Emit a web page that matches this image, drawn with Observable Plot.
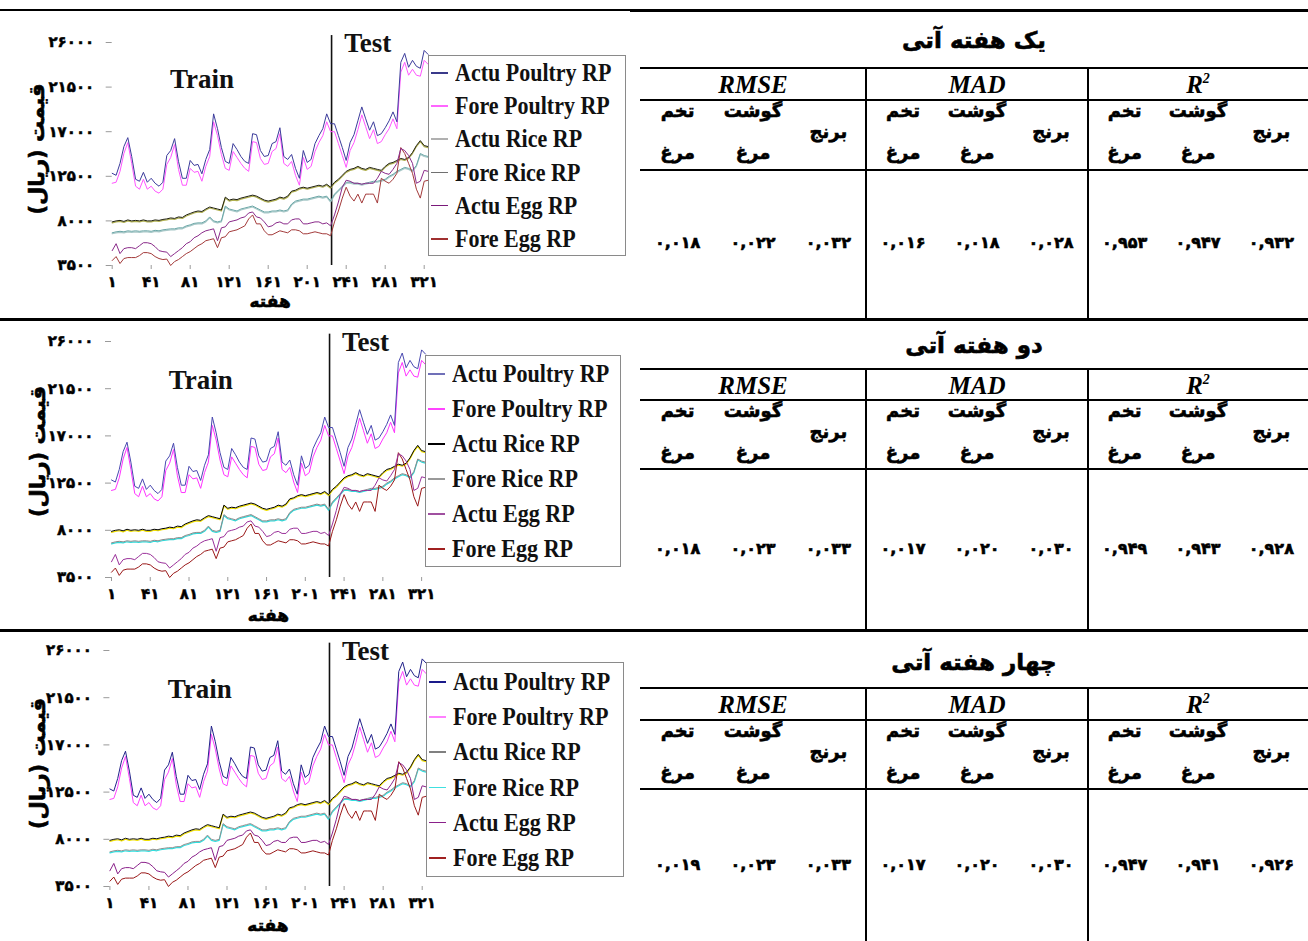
<!DOCTYPE html>
<html>
<head>
<meta charset="utf-8">
<script src="https://cdn.jsdelivr.net/npm/d3@7"></script>
<script src="https://cdn.jsdelivr.net/npm/@observablehq/plot@0.6"></script>
<style>
  html, body { margin: 0; padding: 0; background: #fff; }
  #root { position: relative; width: 1308px; height: 941px; overflow: hidden; background: #fff; font-family: "DejaVu Sans", sans-serif; }
  .abs { position: absolute; white-space: nowrap; }
  .fa { -webkit-text-stroke: 0.6px #000; color: #000; }
  #root svg g[aria-label$="tick label"] text { stroke: #000; stroke-width: 0.5px; }
</style>
</head>
<body>
<div id="root"></div>
<script>
// ---------------- DATA ----------------
const weeks = [1,5,9,13,17,21,25,29,33,37, 41,45,49,53,57,61,65,69,73,77, 81,85,89,93,97,101,105,109,113,117,
  121,125,129,133,137,141,145,149,153,157, 161,165,169,173,177,181,185,189,193,197, 201,205,209,213,217,221,225,229,233,237,
  241,245,249,253,257,261,265,269,273,277, 281,285,289,293,297,301,305,309,313,317, 321,325];

const poultryActual = [12800,12600,13800,15500,16400,14500,12200,12000,12900,11900,
  12300,11800,11500,11900,14600,15100,16300,14000,12300,12300,
  14100,13600,13700,12750,14200,15200,18800,17300,15400,14000,
  13800,15800,15200,14500,14000,13800,16800,16700,15100,14500,
  14600,15800,16000,17400,14500,14200,14700,13300,12300,15100,
  13900,14200,15800,16600,17300,18800,17800,17800,16600,15400,
  14100,15900,16700,18100,19500,18300,17150,18000,16600,16800,
  17400,18100,19000,18000,24000,24900,23500,24200,23600,23400,
  25200,24800];
const poultryFore = [11800,11900,13000,14800,15900,13800,11500,11200,12200,11200,
  11500,11000,10800,11200,13700,14400,15700,13200,11600,11600,
  13300,12900,13000,12000,13500,14500,18000,16600,14700,13300,
  13100,15000,14400,13800,13300,13000,16000,15900,14300,13700,
  13800,15000,15300,16800,13800,13500,14000,12600,11600,14400,
  13200,13500,15000,15900,16600,18000,17000,17000,15800,14600,
  13400,15100,15900,17200,18700,17500,16300,17200,15800,16000,
  16700,17300,18300,17300,23000,24000,22700,23300,22700,22600,
  24200,23800];
const riceActual = [7900,8000,8050,7950,8100,8000,8050,8000,8100,8000,
  8000,8100,8050,8150,8200,8300,8250,8400,8350,8600,
  8750,8900,9000,8950,9200,9400,9300,9200,9100,10400,
  10100,10200,10150,10300,10400,10500,10600,10500,10300,10100,
  10000,10100,10200,10400,10300,10500,11000,11100,11300,11400,
  11300,11400,11500,11600,11500,11700,11400,11900,12200,12600,
  13000,13200,13300,13500,13300,13200,13400,13300,13200,13100,
  13500,13800,13900,14100,14300,14200,14400,14900,15600,16100,
  15600,15500];
const riceFore = [6800,6900,6950,6900,7000,6950,7000,6950,7000,7000,
  6950,7050,7000,7100,7150,7200,7200,7300,7300,7500,
  7600,7750,7800,7800,8000,8400,8000,7900,8000,9500,
  9200,9100,9000,9200,9300,9400,9500,9300,9100,8900,
  8900,9000,9000,9100,9000,9100,9700,10000,10100,10200,
  10200,10300,10400,10500,10400,10500,10000,10700,11100,11500,
  11900,11900,11800,11800,11700,11800,11900,12000,12000,12100,
  12200,12500,12700,13000,13200,13400,13300,13100,13600,14800,
  14600,14500];
const eggActual = [5000,5700,4700,5200,5300,5300,5200,5500,5800,5800,
  5700,5400,5000,4900,4850,4400,4700,5000,5300,5700,
  5900,6300,6500,6800,7000,7100,7200,6000,7300,7400,
  7900,8000,8100,8300,8400,8800,8900,8400,8300,7900,
  7400,7500,7800,7900,7700,7700,8100,8200,8200,7700,
  7700,7800,7900,7900,7700,7800,7500,8600,9900,11400,
  12100,12000,11800,11800,11700,11800,11800,11800,12300,13000,
  12800,12700,13200,13800,15300,15100,14600,13800,11800,12000,
  13100,13000];
const eggFore = [4000,4400,3700,4200,4300,4300,4300,4500,4800,4800,
  4700,4400,4200,4100,4150,3500,3900,4100,4400,4700,
  4900,5200,5500,5700,6000,6100,6200,5300,6300,6400,
  6900,7000,7100,7300,7500,8200,8600,7700,7700,7000,
  6600,6600,6800,7000,6900,6800,7100,7100,7000,6700,
  6700,6800,6900,6800,6700,6700,6500,7900,9000,10300,
  11400,10500,10000,10700,9800,10700,10700,10700,9800,12300,
  12000,11800,12200,12800,15400,14800,13800,12800,11200,10300,
  12000,12100];

const splitWeek = 226;
const yTicks = [3500, 8000, 12500, 17000, 21500, 26000];
const xTicks = [1, 41, 81, 121, 161, 201, 241, 281, 321];
const phaseNotes = [{label: "Train", week: 93, value: 22300}, {label: "Test", week: 263, value: 25900}];
const yTitle = "قیمت (ریال)\u200F";
const xTitle = "هفته";
const legendLabels = ["Actu Poultry RP", "Fore Poultry RP", "Actu Rice RP", "Fore Rice RP", "Actu Egg RP", "Fore Egg RP"];

const horizons = ["یک هفته آتی", "دو هفته آتی", "چهار هفته آتی"];
const metricNames = ["RMSE", "MAD", "R"];
const productLabels = [["تخم", "مرغ"], ["گوشت", "مرغ"], ["برنج"]];
const rmse = [[0.018, 0.022, 0.032], [0.018, 0.023, 0.033], [0.019, 0.023, 0.033]];
const mad  = [[0.016, 0.018, 0.028], [0.017, 0.020, 0.030], [0.017, 0.020, 0.030]];
const r2   = [[0.953, 0.947, 0.932], [0.949, 0.943, 0.928], [0.947, 0.941, 0.926]];

// ---------------- LAYOUT / STYLE ----------------
const panels = [
  { top: 20, h: 295, mt: 22, mb: 50, ml: 111.7, mr: 12.4, xlabDy: 36, ylabDx: -75, ylabDy: -5,
    lineColors: {PA: "#3b3b9b", PF: "#ff55ff", RA: "#202010", RAu: "#b0b050", RF: "#6aa6a6", RFu: "#a8c8c8", EA: "#8a2a8a", EF: "#a33a3a"},
    legend: {left: 428, top: 55, w: 198, h: 201, first: 17, gap: 33.2, font: 25, sx: 0.88, tx: 26},
    swatch: ["#3a3a8a", "#ff66ff", "#b0b0b0", "#707070", "#7a1a7a", "#a03030"],
    table: {titleY: 40, top: 68, head: 100, sub: 170, bottom: 318, valueY: 243} },
  { top: 325, h: 300, mt: 16, mb: 48, ml: 111, mr: 15, xlabDy: 38, ylabDx: -73, ylabDy: -8,
    lineColors: {PA: "#4848b0", PF: "#ff33ff", RA: "#000000", RAu: "#f0e000", RF: "#8a8a8a", RFu: "#30d8d8", EA: "#9a309a", EF: "#9a1818"},
    legend: {left: 425, top: 355, w: 196, h: 212, first: 18, gap: 35, font: 26, sx: 0.85, tx: 26},
    swatch: ["#7070b8", "#ff44ff", "#000000", "#999999", "#a050a0", "#a02020"],
    table: {titleY: 345, top: 369, head: 400, sub: 469, bottom: 629, valueY: 549} },
  { top: 634, h: 304, mt: 16, mb: 52, ml: 109.4, mr: 14.4, xlabDy: 39, ylabDx: -72, ylabDy: -5,
    lineColors: {PA: "#22228a", PF: "#ff44ff", RA: "#101010", RAu: "#f0e000", RF: "#909090", RFu: "#30e0e0", EA: "#8a208a", EF: "#9a1818"},
    legend: {left: 426, top: 662, w: 198, h: 215, first: 19, gap: 35.2, font: 26, sx: 0.85, tx: 26},
    swatch: ["#1a1a8a", "#ff80ff", "#808080", "#40e0e0", "#8a208a", "#a02020"],
    table: {titleY: 662, top: 688, head: 720, sub: 789, bottom: 941, valueY: 865} }
];

const faDigits = "۰۱۲۳۴۵۶۷۸۹";
const fa = v => String(v).replace(/[0-9]/g, d => faDigits[+d]).replace(".", ",");
const fa3 = v => fa(v.toFixed(3));

const root = document.getElementById("root");
function el(style, text, parent, cls) {
  const e = document.createElement("div");
  e.className = "abs" + (cls ? " " + cls : "");
  Object.assign(e.style, style);
  if (text != null) e.textContent = text;
  (parent || root).appendChild(e);
  return e;
}
function hline(x, y, w, t) { el({left: x + "px", top: (y - t / 2) + "px", width: w + "px", height: t + "px", background: "#000"}); }
function vline(x, y1, y2, t) { el({left: (x - t / 2) + "px", top: y1 + "px", width: t + "px", height: (y2 - y1) + "px", background: "#000"}); }

// ---------------- CHARTS ----------------
function series(vals) { return weeks.map((w, i) => ({w, v: vals[i]})); }

panels.forEach((p, k) => {
  const c = p.lineColors;
  const svg = Plot.plot({
    width: 440, height: p.h,
    marginLeft: p.ml, marginRight: p.mr, marginTop: p.mt, marginBottom: p.mb,
    x: {domain: [1, 325]},
    y: {domain: [3500, 26000]},
    style: {fontFamily: "DejaVu Sans", fontWeight: "bold", fontSize: "15px", background: "transparent", overflow: "visible", color: "black"},
    marks: [
      Plot.axisY({ticks: yTicks, tickSize: 6, tickPadding: 12, tickFormat: fa, stroke: "#9a9a9a", fill: "black", line: true, label: null, fontSize: 15}),
      Plot.axisX({ticks: xTicks, tickSize: 4, tickPadding: 7, tickFormat: fa, stroke: "#9a9a9a", fill: "black", line: true, label: null, fontSize: 15}),
      Plot.ruleX([splitWeek], {y1: 3500, y2: 26700, stroke: "#111", strokeWidth: 1.6}),
      Plot.line(series(riceFore), {x: "w", y: "v", stroke: c.RFu, strokeWidth: 1.2, dy: 1}),
      Plot.line(series(riceFore), {x: "w", y: "v", stroke: c.RF, strokeWidth: 1}),
      Plot.line(series(riceActual), {x: "w", y: "v", stroke: c.RAu, strokeWidth: 1.2, dy: 1}),
      Plot.line(series(riceActual), {x: "w", y: "v", stroke: c.RA, strokeWidth: 1}),
      Plot.line(series(eggFore), {x: "w", y: "v", stroke: c.EF, strokeWidth: 1}),
      Plot.line(series(eggActual), {x: "w", y: "v", stroke: c.EA, strokeWidth: 1}),
      Plot.line(series(poultryFore), {x: "w", y: "v", stroke: c.PF, strokeWidth: 1}),
      Plot.line(series(poultryActual), {x: "w", y: "v", stroke: c.PA, strokeWidth: 1}),
      Plot.text(phaseNotes, {x: "week", y: "value", text: "label", fontFamily: "Liberation Serif", fontSize: 27, fontWeight: "bold", fill: "#111"}),
      Plot.text([yTitle], {frameAnchor: "left", textAnchor: "middle", lineAnchor: "middle", rotate: -90, dx: p.ylabDx, dy: p.ylabDy, fontSize: 21, fontWeight: "bold", fill: "#000"}),
      Plot.text([xTitle], {frameAnchor: "bottom", textAnchor: "middle", lineAnchor: "middle", dy: p.xlabDy, fontSize: 17, fontWeight: "bold", fill: "#000"})
    ]
  });
  svg.querySelectorAll("text").forEach(t => {
    if (t.textContent === yTitle || t.textContent === xTitle) {
      t.style.stroke = "#000";
      t.style.strokeWidth = "0.6px";
    }
  });
  const holder = el({left: "0px", top: p.top + "px"});
  holder.appendChild(svg);

  // legend
  const L = p.legend;
  const box = el({left: L.left + "px", top: L.top + "px", width: L.w + "px", height: L.h + "px", border: "1px solid #8a8a8a", background: "#fff", boxSizing: "border-box"});
  legendLabels.forEach((lab, i) => {
    const cy = L.first + i * L.gap;
    el({left: "2px", top: (cy - 1) + "px", width: "17px", height: "1.6px", background: p.swatch[i]}, null, box);
    el({left: L.tx + "px", top: (cy - 16) + "px", height: "32px", lineHeight: "32px",
      fontFamily: "Liberation Serif", fontWeight: "bold", fontSize: L.font + "px", color: "#111",
      transform: `scaleX(${L.sx})`, transformOrigin: "left center"}, lab, box);
  });

  // table
  const T = p.table;
  el({left: "640px", width: "668px", top: (T.titleY - 18) + "px", height: "36px", lineHeight: "36px", textAlign: "center",
      fontSize: "23px", fontWeight: "bold", direction: "rtl"}, horizons[k], null, "fa");
  hline(640, T.top, 668, 2);
  hline(640, T.head, 668, 2);
  hline(640, T.sub, 668, 2.5);
  vline(866, T.top, T.bottom, 1.6);
  vline(1088, T.top, T.bottom, 1.6);
  const groups = [{left: 640, w: 226, vals: rmse[k]}, {left: 866, w: 222, vals: mad[k]}, {left: 1088, w: 220, vals: r2[k]}];
  groups.forEach((g, gi) => {
    const hc = (T.top + T.head) / 2 + 1;
    const head = el({left: g.left + "px", width: g.w + "px", top: (hc - 16) + "px", height: "32px", lineHeight: "32px", textAlign: "center",
      fontFamily: "Liberation Serif", fontWeight: "bold", fontStyle: "italic", fontSize: "25px"}, metricNames[gi]);
    if (gi === 2) {
      const s = document.createElement("sup");
      s.textContent = "2";
      Object.assign(s.style, {fontSize: "14px", verticalAlign: "10px", lineHeight: "0"});
      head.appendChild(s);
    }
    const sc = (T.head + T.sub) / 2;
    productLabels.forEach((lines, ci) => {
      const cx = g.left + (ci + 0.5) * g.w / 3;
      const cell = {left: (cx - 37) + "px", width: "74px", height: "36px", lineHeight: "36px", textAlign: "center", fontSize: "18px", fontWeight: "bold"};
      if (lines.length === 2) {
        el({...cell, top: (sc - 42) + "px"}, lines[0], null, "fa");
        el({...cell, top: (sc + 0) + "px"}, lines[1], null, "fa");
      } else {
        el({...cell, top: (sc - 21) + "px"}, lines[0], null, "fa");
      }
      el({left: (cx - 37) + "px", width: "74px", top: (T.valueY - 12) + "px", height: "24px", lineHeight: "24px", textAlign: "center", fontSize: "16px", fontWeight: "bold"}, fa3(g.vals[ci]), null, "fa");
    });
  });
});

// row separators
hline(0, 10, 630, 2);
hline(630, 10.5, 678, 3);
hline(0, 319, 1308, 3);
hline(0, 630, 1308, 3);
</script>
</body>
</html>
